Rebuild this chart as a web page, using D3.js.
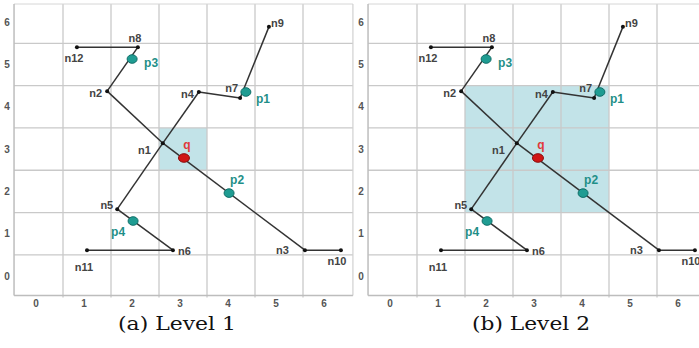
<!DOCTYPE html>
<html><head><meta charset="utf-8">
<script src="https://cdn.jsdelivr.net/npm/d3@7"></script>
<style>body{margin:0;background:#fff}svg{display:block}</style>
</head><body><svg id="c" width="699" height="348"></svg>
<script>
// ---- data ----
const xTicks = [0,1,2,3,4,5,6];
const yTicks = [0,1,2,3,4,5,6];
const gridVals = [0.5,1.5,2.5,3.5,4.5,5.5];
const nodeNames = ["n1","n2","n3","n4","n5","n6","n7","n8","n9","n10","n11","n12"];
const nodeX = [2.58,1.42,5.54,3.33,1.63,2.79,4.19,2.06,4.79,6.29,1.00,0.79];
const nodeY = [3.14,4.37,0.61,4.35,1.58,0.61,4.21,5.41,5.89,0.61,0.61,5.41];
const edgeFrom = ["n12","n8","n2","n1","n3","n5","n1","n4","n7","n5","n11"];
const edgeTo   = ["n8","n2","n1","n3","n10","n1","n4","n7","n9","n6","n6"];
const objNames = ["p1","p2","p3","p4"];
const objX = [4.31,3.96,1.94,1.96];
const objY = [4.35,1.96,5.13,1.30];
const queryName = "q";
const queryX = 3.02, queryY = 2.79;
const levels = ["(a) Level 1","(b) Level 2"];
const rangeX0 = [2.5,1.5], rangeX1 = [3.5,4.5];
const rangeY0 = [2.5,1.5], rangeY1 = [3.5,4.5];

// ---- layout ----
const labelPos = {
  n12:{dx:-3,dy:11,a:"middle"}, n8:{dx:-3,dy:-9,a:"middle"}, n2:{dx:-5,dy:2,a:"end"},
  n1:{dx:-12,dy:7,a:"end"}, n4:{dx:-5,dy:2,a:"end"}, n7:{dx:-2,dy:-10,a:"end"},
  n9:{dx:2,dy:-4,a:"start"}, n5:{dx:-4,dy:-4,a:"end"}, n11:{dx:-3,dy:17,a:"middle"},
  n6:{dx:5,dy:1,a:"start"}, n3:{dx:-16,dy:0,a:"end"}, n10:{dx:-4,dy:11,a:"middle"},
  p3:{dx:12,dy:4,a:"start"}, p1:{dx:10,dy:7,a:"start"}, p2:{dx:8,dy:-13,a:"middle"},
  p4:{dx:-15,dy:11,a:"middle"}, q:{dx:3,dy:-13,a:"middle"}
};
const panelOffsets = [0,354];

const svg = d3.select("#c");
const x = d3.scaleLinear().domain([0,6]).range([39,327]);
const y = d3.scaleLinear().domain([0,6]).range([276,22.2]);
const xMin=-0.52, xMax=6.54, yMin=-0.46, yMax=6.43;
const nodeMap = {};
nodeNames.forEach((n,i)=>nodeMap[n]={x:nodeX[i],y:nodeY[i]});

levels.forEach((cap,li)=>{
  const g = svg.append("g").attr("transform",`translate(${panelOffsets[li]},0)`);
  g.append("rect")
    .attr("x",x(rangeX0[li])).attr("y",y(rangeY1[li]))
    .attr("width",x(rangeX1[li])-x(rangeX0[li]))
    .attr("height",y(rangeY0[li])-y(rangeY1[li]))
    .attr("fill","#c2e3e8");
  g.selectAll(".gv").data(gridVals).join("line")
    .attr("x1",d=>x(d)).attr("x2",d=>x(d)).attr("y1",y(yMax)).attr("y2",y(yMin)+2)
    .attr("stroke","#c9c9c9").attr("stroke-width",1.3);
  g.selectAll(".gh").data(gridVals).join("line")
    .attr("y1",d=>y(d)).attr("y2",d=>y(d)).attr("x1",x(xMin)).attr("x2",x(xMax))
    .attr("stroke","#c9c9c9").attr("stroke-width",1.3);
  g.append("line").attr("x1",x(xMin)).attr("x2",x(xMax)).attr("y1",y(yMax)).attr("y2",y(yMax))
    .attr("stroke","#d6d6d6").attr("stroke-width",1);
  g.append("line").attr("x1",x(xMax)).attr("x2",x(xMax)).attr("y1",y(yMax)).attr("y2",y(yMin))
    .attr("stroke","#d0d0d0").attr("stroke-width",1.2);
  g.append("line").attr("x1",x(xMin)).attr("x2",x(xMin)).attr("y1",y(yMax)).attr("y2",y(yMin))
    .attr("stroke","#bdbdbd").attr("stroke-width",1.5);
  g.append("line").attr("x1",x(xMin)).attr("x2",x(xMax)).attr("y1",y(yMin)).attr("y2",y(yMin))
    .attr("stroke","#bdbdbd").attr("stroke-width",1.5);
  g.selectAll(".xt").data(xTicks).join("text")
    .attr("x",d=>x(d)-3).attr("y",303).attr("text-anchor","middle").attr("dominant-baseline","central")
    .attr("font-family","Liberation Sans, Arial, sans-serif").attr("font-size",10).attr("font-weight","bold")
    .attr("fill","#555").text(d=>d);
  g.selectAll(".yt").data(yTicks).join("text")
    .attr("x",7).attr("y",d=>y(d)).attr("text-anchor","middle").attr("dominant-baseline","central")
    .attr("font-family","Liberation Sans, Arial, sans-serif").attr("font-size",10).attr("font-weight","bold")
    .attr("fill","#555").text(d=>d);
  g.selectAll(".e").data(edgeFrom.map((f,i)=>[f,edgeTo[i]])).join("line")
    .attr("x1",d=>x(nodeMap[d[0]].x)).attr("y1",d=>y(nodeMap[d[0]].y))
    .attr("x2",d=>x(nodeMap[d[1]].x)).attr("y2",d=>y(nodeMap[d[1]].y))
    .attr("stroke","#333").attr("stroke-width",1.5);
  g.selectAll(".n").data(nodeNames).join("circle")
    .attr("cx",d=>x(nodeMap[d].x)).attr("cy",d=>y(nodeMap[d].y)).attr("r",2).attr("fill","#111");
  g.selectAll(".nl").data(nodeNames).join("text")
    .attr("x",d=>x(nodeMap[d].x)+labelPos[d].dx).attr("y",d=>y(nodeMap[d].y)+labelPos[d].dy)
    .attr("text-anchor",d=>labelPos[d].a).attr("dominant-baseline","central")
    .attr("font-family","Liberation Sans, Arial, sans-serif").attr("font-size",11).attr("font-weight","bold")
    .attr("fill","#444").text(d=>d);
  g.selectAll(".o").data(objNames).join("ellipse")
    .attr("cx",(d,i)=>x(objX[i])).attr("cy",(d,i)=>y(objY[i])).attr("rx",5).attr("ry",4.3)
    .attr("fill","#1f9c92").attr("stroke","#0f6e68").attr("stroke-width",1);
  g.selectAll(".ol").data(objNames).join("text")
    .attr("x",(d,i)=>x(objX[i])+labelPos[d].dx).attr("y",(d,i)=>y(objY[i])+labelPos[d].dy)
    .attr("text-anchor",d=>labelPos[d].a).attr("dominant-baseline","central")
    .attr("font-family","Liberation Sans, Arial, sans-serif").attr("font-size",12).attr("font-weight","bold")
    .attr("fill","#1f8f88").text(d=>d);
  g.append("ellipse").attr("cx",x(queryX)).attr("cy",y(queryY)).attr("rx",5.5).attr("ry",4.3)
    .attr("fill","#d01515").attr("stroke","#8a0d0d").attr("stroke-width",1);
  g.append("text").attr("x",x(queryX)+labelPos.q.dx).attr("y",y(queryY)+labelPos.q.dy)
    .attr("text-anchor","middle").attr("dominant-baseline","central")
    .attr("font-family","Liberation Sans, Arial, sans-serif").attr("font-size",12).attr("font-weight","bold")
    .attr("fill","#e03a3a").text(queryName);
  g.append("text").attr("x",177).attr("y",323).attr("text-anchor","middle").attr("dominant-baseline","central")
    .attr("font-family","DejaVu Serif, serif").attr("font-size",19)
    .attr("textLength",118).attr("lengthAdjust","spacingAndGlyphs")
    .attr("fill","#111").text(cap);
});
</script></body></html>
